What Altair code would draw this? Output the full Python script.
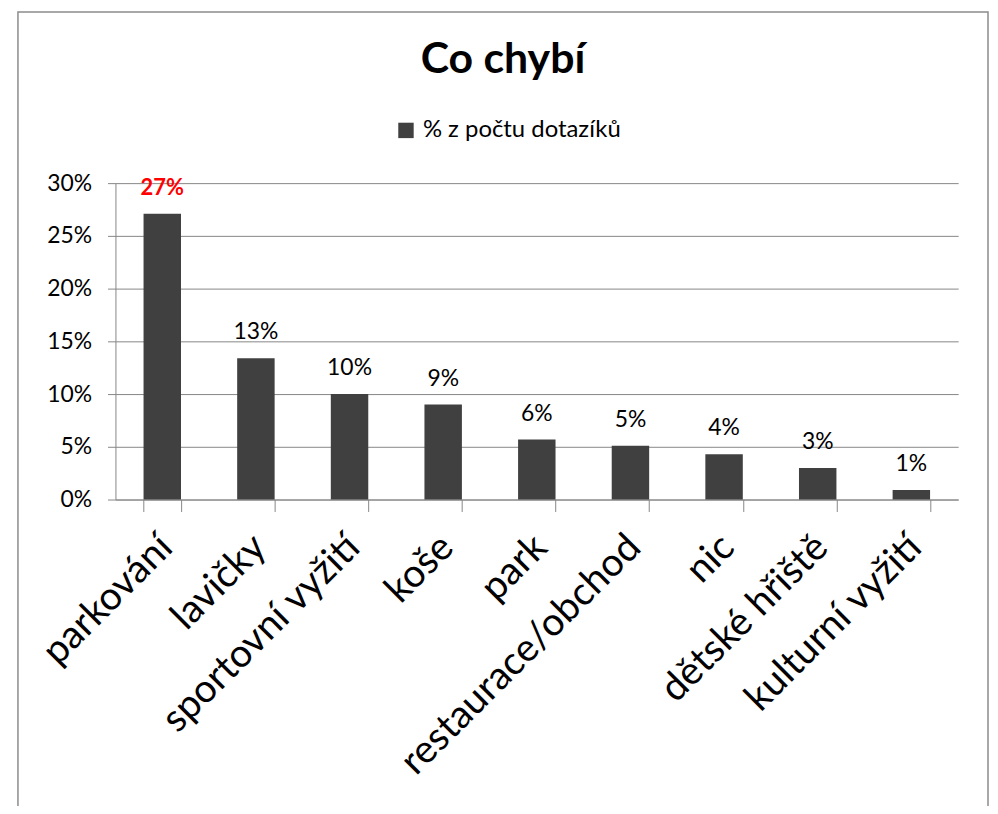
import altair as alt
import pandas as pd

title_text = "Co chybí"
categories = ["parkování", "lavičky", "sportovní vyžití", "koše", "park",
              "restaurace/obchod", "nic", "dětské hřiště", "kulturní vyžití"]
values = [0.271, 0.134, 0.100, 0.090, 0.057, 0.051, 0.043, 0.030, 0.009]
series_name = "% z počtu dotazíků"
y_ticks = [0, 0.05, 0.10, 0.15, 0.20, 0.25, 0.30]

df = pd.DataFrame({"kategorie": categories, "hodnota": values, "serie": series_name})
df["highlight"] = [i == 0 for i in range(len(categories))]

FONT = "Lato"
GRAY = "#868686"
BAR = "#404040"

x_enc = alt.X("kategorie:N", sort=categories,
              scale=alt.Scale(paddingInner=0.6, paddingOuter=0.3),
              axis=alt.Axis(title=None, labelAngle=-45, labelFontSize=39, labelFont=FONT,
                            labelColor="black", labelPadding=16, labelOffset=-10,
                            tickBand="extent", tickSize=12, tickColor=GRAY,
                            domainColor=GRAY, labelLimit=500))
y_enc = alt.Y("hodnota:Q", scale=alt.Scale(domain=[0, 0.30], nice=False),
              axis=alt.Axis(title=None, format=".0%", values=y_ticks, labelFontSize=23,
                            labelFont=FONT, labelColor="black", tickSize=8, tickColor=GRAY,
                            domainColor=GRAY, gridColor=GRAY, labelPadding=16))

base = alt.Chart(df)

bars = base.mark_bar().encode(
    x=x_enc, y=y_enc,
    color=alt.Color("serie:N", scale=alt.Scale(range=[BAR]),
                    legend=alt.Legend(title=None, orient="none", legendX=280, legendY=-65,
                                      symbolType="square", symbolSize=240,
                                      labelFontSize=24, labelFont=FONT, labelColor="black",
                                      symbolStrokeWidth=0, labelOffset=5, labelLimit=500))
)

labels = base.mark_text(dy=-26, fontSize=23, font=FONT, color="black").encode(
    x=alt.X("kategorie:N", sort=categories),
    y="hodnota:Q",
    text=alt.Text("hodnota:Q", format=".0%"),
).transform_filter("!datum.highlight")

label_hi = base.mark_text(dy=-26, fontSize=22, font=FONT, color="#FF0000",
                          fontWeight="bold").encode(
    x=alt.X("kategorie:N", sort=categories),
    y="hodnota:Q",
    text=alt.Text("hodnota:Q", format=".0%"),
).transform_filter("datum.highlight")

title = alt.Chart(pd.DataFrame({"t": [title_text]})).mark_text(
    fontSize=43, font=FONT, fontWeight="bold", color="black",
    align="center", baseline="alphabetic"
).encode(text="t:N", x=alt.value(389.5), y=alt.value(-111))

frame = alt.Chart(pd.DataFrame({"a": [0]})).mark_rect(
    fill="transparent", stroke="#8c8c8c", strokeWidth=1.5
).encode(x=alt.value(-98), x2=alt.value(877), y=alt.value(-172), y2=alt.value(700))

chart = alt.layer(frame, title, bars, labels, label_hi).properties(
    width=847, height=318,
    autosize=alt.AutoSizeParams(type="none"),
    padding={"left": 108, "top": 174, "right": 32, "bottom": 306},
).configure_view(stroke=None).configure_axisX(grid=False)

chart.save("out.html", embed_options={"renderer": "svg", "actions": False})
